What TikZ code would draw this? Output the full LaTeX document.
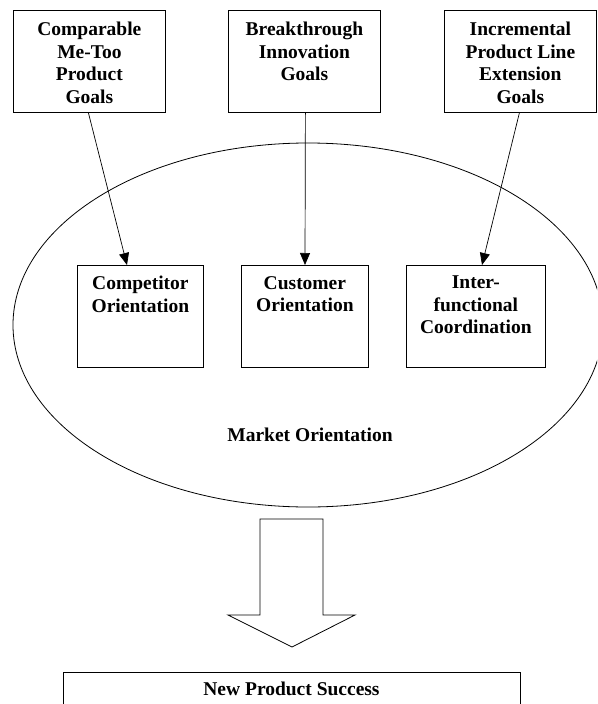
\documentclass[tikz,border=0pt]{standalone}
\usepackage{fontspec}
\setmainfont{Liberation Serif}
\usetikzlibrary{arrows.meta}
\begin{document}
\begin{tikzpicture}[x=1pt,y=-1pt,
  box/.style={draw,line width=0.8pt,anchor=north west,inner sep=0pt},
  lbl/.style={anchor=north,align=center,inner sep=0pt,
    font=\fontsize{19.5}{22.5}\selectfont\bfseries},
  link/.style={line width=0.7pt,-{Triangle[length=12pt,width=10pt]}}]
\useasboundingbox (0,0) rectangle (597,704);
\clip (0,0) rectangle (597,704);

% goal boxes along the top
\node[box,minimum width=152pt,minimum height=102pt] (g1) at (13,10) {};
\node[box,minimum width=152pt,minimum height=102pt] (g2) at (228,10) {};
\node[box,minimum width=152pt,minimum height=102pt] (g3) at (444,10) {};
\node[lbl] (t1) at (g1.north) [yshift=-12pt] {Comparable\\Me-Too\\Product\\Goals};
\node[lbl] (t2) at (g2.north) [yshift=-12pt] {Breakthrough\\Innovation\\Goals};
\node[lbl] (t3) at (g3.north) [yshift=-12pt] {Incremental\\Product Line\\Extension\\Goals};

% market orientation ellipse
\draw[line width=0.8pt] (308,325) ellipse [x radius=295pt, y radius=182pt];
\node[lbl] (mo) at (310,428) {Market Orientation};

% components of market orientation
\node[box,minimum width=126pt,minimum height=102pt] (c1) at (77,265) {};
\node[box,minimum width=127pt,minimum height=102pt] (c2) at (241,265) {};
\node[box,minimum width=139pt,minimum height=102pt] (c3) at (406,265) {};
\node[lbl] (s1) at (c1.north) [yshift=-11pt] {Competitor\\Orientation};
\node[lbl] (s2) at (c2.north) [yshift=-11pt] {Customer\\Orientation};
\node[lbl] (s3) at (c3.north) [yshift=-11pt] {Inter-\\functional\\Coordination};

% goal-to-component links
\draw[link] ([xshift=-1pt]g1.south) -- ([xshift=50pt]c1.north west);
\draw[link] ([xshift=1pt]g2.south) -- ([xshift=64pt]c2.north west);
\draw[link] ([xshift=-1pt]g3.south) -- ([xshift=76pt]c3.north west);

% block arrow to the outcome
\draw[line width=0.8pt,line join=miter] (260,519) -- (323,519) -- (323,615) -- (355,615)
  -- (292,647) -- (228,615) -- (260,615) -- cycle;

% outcome box
\node[box,minimum width=457pt,minimum height=60pt] (nps) at (63,672) {};
\node[lbl] (nt) at (291.5,682) {New Product Success};
\end{tikzpicture}
\end{document}
